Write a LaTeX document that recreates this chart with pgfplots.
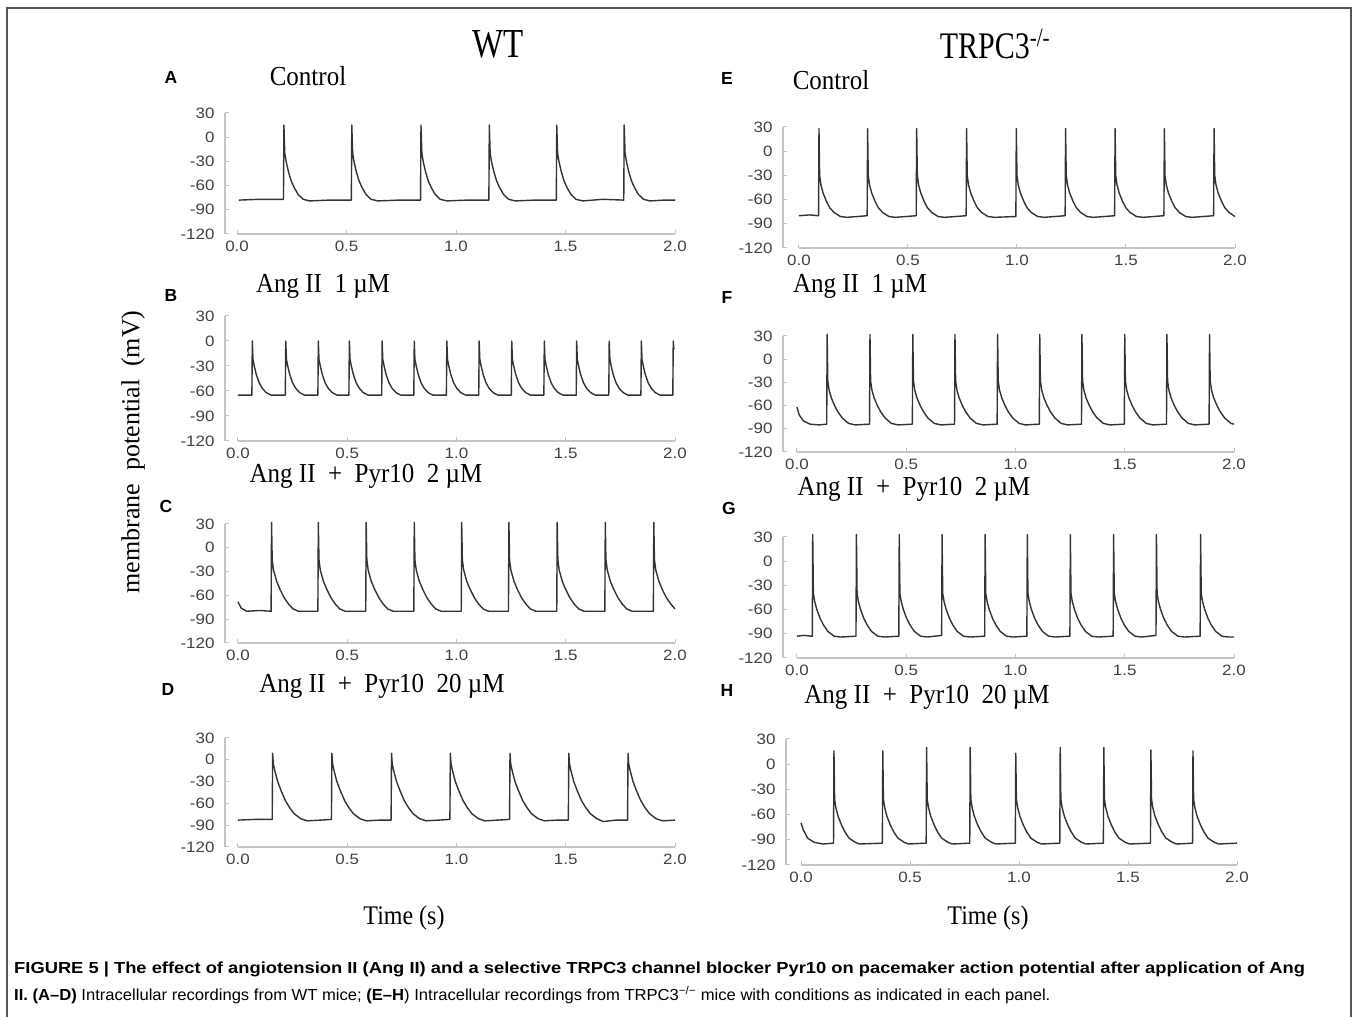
\documentclass[border=0pt]{standalone}
\usepackage{fontspec}
\setmainfont{Liberation Serif}
\newfontfamily\sansf{Liberation Sans}
\usepackage{graphicx}
\usepackage{pgfplots}
\pgfplotsset{compat=1.18}

\definecolor{axgray}{HTML}{C4C4C4}
\definecolor{tickgray}{HTML}{404040}
\definecolor{trace}{HTML}{333333}
\definecolor{framegray}{HTML}{555555}
\newcommand\tickfont{\sansf\fontsize{15}{15}\selectfont}
\newcommand\tl[1]{\scalebox{1.13}[1]{#1}}
\newcommand\ttl[1]{\scalebox{1}[1.1]{\fontsize{25}{25}\selectfont #1}}
\newcommand\lett[1]{\sansf\bfseries\fontsize{17.5}{17.5}\selectfont #1}

\tikzset{aptrace/.style={color=trace, line width=1.4pt, line join=round}}
\pgfplotsset{ap/.style={scale only axis, anchor=south west,
  ymin=-120, ymax=30, xmax=2, axis lines*=left,
  x axis line style={draw=none}, y axis line style={draw=axgray, line width=1.1pt},
  ytick={-120,-90,-60,-30,0,30},
  yticklabels={\tl{-120},\tl{-90},\tl{-60},\tl{-30},\tl{0},\tl{30}},
  xtick={0,0.5,1,1.5,2},
  xticklabels={\tl{0.0},\tl{0.5},\tl{1.0},\tl{1.5},\tl{2.0}},
  tick label style={font=\tickfont, text=tickgray},
  tick style={draw=axgray, line width=1pt}, tick align=inside, major tick length=4pt,
  yticklabel style={xshift=-7pt},
  xticklabel style={yshift=-3pt, text height=11pt, text depth=2pt, anchor=north},
  clip=false}}
\newcommand\xline{\draw[axgray, line width=1.1pt] (axis cs:0,-120) -- (axis cs:2,-120);}

\begin{document}
\begin{tikzpicture}
\path[use as bounding box] (0pt,0pt) rectangle (1358pt,1017pt);
\draw[framegray, line width=1.5pt] (7pt,0pt) -- (7pt,1009pt) -- (1351pt,1009pt) -- (1351pt,0pt);

% ---------------- WT column ----------------
% A: control
\begin{axis}[ap, at={(225pt,783pt)}, width=450pt, height=121pt, xmin=-0.055]
\xline
\addplot[aptrace] coordinates {
(0.008,-78) (0.1,-77) (0.212,-77)
(0.214,15) (0.218,-20) (0.224,-30) (0.234,-42) (0.247,-54) (0.262,-63) (0.279,-71) (0.302,-77) (0.332,-79) (0.42,-78) (0.522,-78)
(0.524,15) (0.528,-20) (0.534,-30) (0.544,-42) (0.557,-54) (0.572,-63) (0.589,-71) (0.612,-77) (0.642,-79) (0.74,-78) (0.838,-78)
(0.840,15) (0.844,-20) (0.850,-30) (0.860,-42) (0.873,-54) (0.888,-63) (0.905,-71) (0.928,-77) (0.958,-79) (1.05,-78) (1.150,-78)
(1.152,15) (1.156,-20) (1.162,-30) (1.172,-42) (1.185,-54) (1.200,-63) (1.217,-71) (1.240,-77) (1.270,-79) (1.36,-78) (1.458,-78)
(1.460,15) (1.464,-20) (1.470,-30) (1.480,-42) (1.493,-54) (1.508,-63) (1.525,-71) (1.548,-77) (1.578,-79) (1.67,-77) (1.766,-78)
(1.768,15) (1.772,-20) (1.778,-30) (1.788,-42) (1.801,-54) (1.816,-63) (1.833,-71) (1.856,-77) (1.886,-79) (1.95,-78) (2.0,-78)
};
\end{axis}

% B: Ang II 1 uM
\begin{axis}[ap, at={(225pt,576pt)}, width=450pt, height=125pt, xmin=-0.059]
\xline
\addplot[aptrace] coordinates {
(0,-65) (0.064,-65)
(0.066,0) (0.069,-22) (0.075,-30) (0.084,-40) (0.097,-50) (0.112,-57) (0.130,-62) (0.152,-65) (0.217,-65)
(0.219,0) (0.222,-22) (0.228,-30) (0.237,-40) (0.250,-50) (0.265,-57) (0.283,-62) (0.305,-65) (0.366,-65)
(0.368,0) (0.371,-22) (0.377,-30) (0.386,-40) (0.399,-50) (0.414,-57) (0.432,-62) (0.454,-65) (0.508,-65)
(0.510,0) (0.513,-22) (0.519,-30) (0.528,-40) (0.541,-50) (0.556,-57) (0.574,-62) (0.596,-65) (0.658,-65)
(0.660,0) (0.663,-22) (0.669,-30) (0.678,-40) (0.691,-50) (0.706,-57) (0.724,-62) (0.746,-65) (0.805,-65)
(0.807,0) (0.810,-22) (0.816,-30) (0.825,-40) (0.838,-50) (0.853,-57) (0.871,-62) (0.893,-65) (0.954,-65)
(0.956,0) (0.959,-22) (0.965,-30) (0.974,-40) (0.987,-50) (1.002,-57) (1.020,-62) (1.042,-65) (1.102,-65)
(1.104,0) (1.107,-22) (1.113,-30) (1.122,-40) (1.135,-50) (1.150,-57) (1.168,-62) (1.190,-65) (1.251,-65)
(1.253,0) (1.256,-22) (1.262,-30) (1.271,-40) (1.284,-50) (1.299,-57) (1.317,-62) (1.339,-65) (1.400,-65)
(1.402,0) (1.405,-22) (1.411,-30) (1.420,-40) (1.433,-50) (1.448,-57) (1.466,-62) (1.488,-65) (1.548,-65)
(1.550,0) (1.553,-22) (1.559,-30) (1.568,-40) (1.581,-50) (1.596,-57) (1.614,-62) (1.636,-65) (1.697,-65)
(1.699,0) (1.702,-22) (1.708,-30) (1.717,-40) (1.730,-50) (1.745,-57) (1.763,-62) (1.785,-65) (1.844,-65)
(1.846,0) (1.849,-22) (1.855,-30) (1.864,-40) (1.877,-50) (1.892,-57) (1.910,-62) (1.932,-65) (1.990,-65)
(1.992,0) (1.995,-10)
};
\end{axis}

% C: Ang II + Pyr10 2 uM
\begin{axis}[ap, at={(225pt,374pt)}, width=450pt, height=119pt, xmin=-0.059]
\xline
\addplot[aptrace] coordinates {
(0,-68) (0.015,-76) (0.04,-80) (0.1,-79) (0.152,-80)
(0.154,32) (0.157,-15) (0.163,-28) (0.177,-42) (0.192,-52) (0.212,-63) (0.232,-71) (0.252,-77) (0.277,-80) (0.366,-80)
(0.368,32) (0.371,-15) (0.377,-28) (0.391,-42) (0.406,-52) (0.426,-63) (0.446,-71) (0.466,-77) (0.491,-80) (0.585,-80)
(0.587,32) (0.590,-15) (0.596,-28) (0.610,-42) (0.625,-52) (0.645,-63) (0.665,-71) (0.685,-77) (0.710,-80) (0.805,-80)
(0.807,32) (0.810,-15) (0.816,-28) (0.830,-42) (0.845,-52) (0.865,-63) (0.885,-71) (0.905,-77) (0.930,-80) (1.022,-80)
(1.024,32) (1.027,-15) (1.033,-28) (1.047,-42) (1.062,-52) (1.082,-63) (1.102,-71) (1.122,-77) (1.147,-80) (1.238,-80)
(1.240,32) (1.243,-15) (1.249,-28) (1.263,-42) (1.278,-52) (1.298,-63) (1.318,-71) (1.338,-77) (1.363,-80) (1.459,-80)
(1.461,32) (1.464,-15) (1.470,-28) (1.484,-42) (1.499,-52) (1.519,-63) (1.539,-71) (1.559,-77) (1.584,-80) (1.679,-80)
(1.681,32) (1.684,-15) (1.690,-28) (1.704,-42) (1.719,-52) (1.739,-63) (1.759,-71) (1.779,-77) (1.804,-80) (1.901,-80)
(1.903,32) (1.906,-15) (1.912,-28) (1.926,-42) (1.941,-52) (1.961,-63) (1.981,-71) (2.0,-77)
};
\end{axis}

% D: Ang II + Pyr10 20 uM
\begin{axis}[ap, at={(225pt,170pt)}, width=450pt, height=109pt, xmin=-0.059]
\xline
\addplot[aptrace] coordinates {
(0,-83) (0.08,-82) (0.157,-82)
(0.159,9) (0.162,-5) (0.168,-14) (0.182,-30) (0.197,-42) (0.217,-56) (0.237,-66) (0.257,-74) (0.287,-81) (0.317,-84) (0.38,-83) (0.428,-82)
(0.430,9) (0.433,-5) (0.439,-14) (0.453,-30) (0.468,-42) (0.488,-56) (0.508,-66) (0.528,-74) (0.558,-81) (0.588,-84) (0.65,-83) (0.701,-83)
(0.703,9) (0.706,-5) (0.712,-14) (0.726,-30) (0.741,-42) (0.761,-56) (0.781,-66) (0.801,-74) (0.831,-81) (0.861,-84) (0.92,-83) (0.970,-82)
(0.972,9) (0.975,-5) (0.981,-14) (0.995,-30) (1.010,-42) (1.030,-56) (1.050,-66) (1.070,-74) (1.100,-81) (1.130,-84) (1.19,-83) (1.243,-82)
(1.245,9) (1.248,-5) (1.254,-14) (1.268,-30) (1.283,-42) (1.303,-56) (1.323,-66) (1.343,-74) (1.373,-81) (1.403,-84) (1.46,-83) (1.512,-83)
(1.514,9) (1.517,-5) (1.523,-14) (1.537,-30) (1.552,-42) (1.572,-56) (1.592,-66) (1.612,-74) (1.642,-81) (1.672,-85) (1.73,-83) (1.783,-83)
(1.785,9) (1.788,-5) (1.794,-14) (1.808,-30) (1.823,-42) (1.843,-56) (1.863,-66) (1.883,-74) (1.913,-81) (1.943,-84) (2.0,-83)
};
\end{axis}

% ---------------- TRPC3-/- column ----------------
% E: control
\begin{axis}[ap, at={(783pt,769pt)}, width=452pt, height=121pt, xmin=-0.073]
\xline
\addplot[aptrace] coordinates {
(0,-80) (0.05,-79) (0.090,-80)
(0.092,28) (0.095,-30) (0.101,-42) (0.111,-52) (0.126,-62) (0.141,-70) (0.161,-76) (0.190,-81) (0.220,-82) (0.313,-80)
(0.315,28) (0.318,-30) (0.324,-42) (0.334,-52) (0.349,-62) (0.364,-70) (0.384,-76) (0.413,-81) (0.443,-82) (0.538,-80)
(0.540,28) (0.543,-30) (0.549,-42) (0.559,-52) (0.574,-62) (0.589,-70) (0.609,-76) (0.638,-81) (0.668,-82) (0.767,-80)
(0.769,28) (0.772,-30) (0.778,-42) (0.788,-52) (0.803,-62) (0.818,-70) (0.838,-76) (0.867,-81) (0.897,-82) (0.995,-81)
(0.997,28) (1.000,-30) (1.006,-42) (1.016,-52) (1.031,-62) (1.046,-70) (1.066,-76) (1.095,-81) (1.125,-82) (1.221,-80)
(1.223,28) (1.226,-30) (1.232,-42) (1.242,-52) (1.257,-62) (1.272,-70) (1.292,-76) (1.321,-81) (1.351,-82) (1.448,-80)
(1.450,28) (1.453,-30) (1.459,-42) (1.469,-52) (1.484,-62) (1.499,-70) (1.519,-76) (1.548,-81) (1.578,-82) (1.674,-80)
(1.676,28) (1.679,-30) (1.685,-42) (1.695,-52) (1.710,-62) (1.725,-70) (1.745,-76) (1.774,-81) (1.804,-82) (1.902,-80)
(1.904,28) (1.907,-30) (1.913,-42) (1.923,-52) (1.938,-62) (1.953,-70) (1.973,-76) (2.0,-81)
};
\end{axis}

% F: Ang II 1 uM
\begin{axis}[ap, at={(783pt,565pt)}, width=451pt, height=116pt, xmin=-0.064]
\xline
\addplot[aptrace] coordinates {
(0,-62) (0.01,-72) (0.03,-80) (0.06,-84) (0.1,-85) (0.136,-84)
(0.138,32) (0.141,-28) (0.147,-40) (0.157,-50) (0.172,-60) (0.187,-68) (0.207,-76) (0.236,-83) (0.266,-85) (0.332,-84)
(0.334,32) (0.337,-28) (0.343,-40) (0.353,-50) (0.368,-60) (0.383,-68) (0.403,-76) (0.432,-83) (0.462,-85) (0.528,-84)
(0.530,32) (0.533,-28) (0.539,-40) (0.549,-50) (0.564,-60) (0.579,-68) (0.599,-76) (0.628,-83) (0.658,-85) (0.721,-84)
(0.723,32) (0.726,-28) (0.732,-40) (0.742,-50) (0.757,-60) (0.772,-68) (0.792,-76) (0.821,-83) (0.851,-85) (0.916,-84)
(0.918,32) (0.921,-28) (0.927,-40) (0.937,-50) (0.952,-60) (0.967,-68) (0.987,-76) (1.016,-83) (1.046,-85) (1.109,-84)
(1.111,32) (1.114,-28) (1.120,-40) (1.130,-50) (1.145,-60) (1.160,-68) (1.180,-76) (1.209,-83) (1.239,-85) (1.302,-84)
(1.304,32) (1.307,-28) (1.313,-40) (1.323,-50) (1.338,-60) (1.353,-68) (1.373,-76) (1.402,-83) (1.432,-85) (1.498,-84)
(1.500,32) (1.503,-28) (1.509,-40) (1.519,-50) (1.534,-60) (1.549,-68) (1.569,-76) (1.598,-83) (1.628,-85) (1.691,-84)
(1.693,32) (1.696,-28) (1.702,-40) (1.712,-50) (1.727,-60) (1.742,-68) (1.762,-76) (1.791,-83) (1.821,-85) (1.886,-84)
(1.888,32) (1.891,-28) (1.897,-40) (1.907,-50) (1.922,-60) (1.937,-68) (1.957,-76) (1.986,-83) (2.0,-84)
};
\end{axis}

% G: Ang II + Pyr10 2 uM
\begin{axis}[ap, at={(783pt,359pt)}, width=451pt, height=121pt, xmin=-0.064]
\xline
\addplot[aptrace] coordinates {
(0,-93) (0.03,-92) (0.070,-93)
(0.072,33) (0.075,-40) (0.081,-50) (0.091,-60) (0.106,-71) (0.121,-79) (0.141,-87) (0.170,-93) (0.200,-94) (0.270,-93)
(0.272,33) (0.275,-40) (0.281,-50) (0.291,-60) (0.306,-71) (0.321,-79) (0.341,-87) (0.370,-93) (0.400,-94) (0.466,-93)
(0.468,33) (0.471,-40) (0.477,-50) (0.487,-60) (0.502,-71) (0.517,-79) (0.537,-87) (0.566,-93) (0.596,-94) (0.662,-92)
(0.664,33) (0.667,-40) (0.673,-50) (0.683,-60) (0.698,-71) (0.713,-79) (0.733,-87) (0.762,-93) (0.792,-94) (0.859,-93)
(0.861,33) (0.864,-40) (0.870,-50) (0.880,-60) (0.895,-71) (0.910,-79) (0.930,-87) (0.959,-93) (0.989,-94) (1.052,-93)
(1.054,33) (1.057,-40) (1.063,-50) (1.073,-60) (1.088,-71) (1.103,-79) (1.123,-87) (1.152,-93) (1.182,-94) (1.249,-93)
(1.251,33) (1.254,-40) (1.260,-50) (1.270,-60) (1.285,-71) (1.300,-79) (1.320,-87) (1.349,-93) (1.379,-94) (1.447,-93)
(1.449,33) (1.452,-40) (1.458,-50) (1.468,-60) (1.483,-71) (1.498,-79) (1.518,-87) (1.547,-93) (1.577,-94) (1.643,-92)
(1.645,33) (1.648,-40) (1.654,-50) (1.664,-60) (1.679,-71) (1.694,-79) (1.714,-87) (1.743,-93) (1.773,-94) (1.845,-93)
(1.847,33) (1.850,-40) (1.856,-50) (1.866,-60) (1.881,-71) (1.896,-79) (1.916,-87) (1.945,-93) (1.975,-94) (2.0,-94)
};
\end{axis}

% H: Ang II + Pyr10 20 uM
\begin{axis}[ap, at={(786pt,152pt)}, width=451pt, height=126pt, xmin=-0.069]
\xline
\addplot[aptrace] coordinates {
(0,-70) (0.01,-78) (0.03,-88) (0.06,-93) (0.1,-95) (0.149,-94)
(0.151,16) (0.154,-42) (0.160,-52) (0.170,-62) (0.185,-72) (0.200,-80) (0.220,-88) (0.249,-93) (0.269,-95) (0.373,-94)
(0.375,16) (0.378,-42) (0.384,-52) (0.394,-62) (0.409,-72) (0.424,-80) (0.444,-88) (0.473,-93) (0.493,-95) (0.574,-94)
(0.576,20) (0.579,-42) (0.585,-52) (0.595,-62) (0.610,-72) (0.625,-80) (0.645,-88) (0.674,-93) (0.694,-95) (0.774,-94)
(0.776,20) (0.779,-42) (0.785,-52) (0.795,-62) (0.810,-72) (0.825,-80) (0.845,-88) (0.874,-93) (0.894,-95) (0.983,-94)
(0.985,13) (0.988,-42) (0.994,-52) (1.004,-62) (1.019,-72) (1.034,-80) (1.054,-88) (1.083,-93) (1.103,-95) (1.187,-94)
(1.189,20) (1.192,-42) (1.198,-52) (1.208,-62) (1.223,-72) (1.238,-80) (1.258,-88) (1.287,-93) (1.307,-95) (1.387,-94)
(1.389,20) (1.392,-42) (1.398,-52) (1.408,-62) (1.423,-72) (1.438,-80) (1.458,-88) (1.487,-93) (1.507,-95) (1.603,-94)
(1.605,17) (1.608,-42) (1.614,-52) (1.624,-62) (1.639,-72) (1.654,-80) (1.674,-88) (1.703,-93) (1.723,-95) (1.796,-94)
(1.798,16) (1.801,-42) (1.807,-52) (1.817,-62) (1.832,-72) (1.847,-80) (1.867,-88) (1.896,-93) (1.916,-95) (2.0,-94)
};
\end{axis}

% ---------------- labels ----------------
\node at (498pt,973pt) {\scalebox{1}[1.25]{\fontsize{33}{33}\selectfont WT}};
\node at (995pt,973pt) {\scalebox{1}[1.25]{\fontsize{30}{30}\selectfont TRPC3\textsuperscript{-/-}}};

\node at (171pt,940pt) {\lett{A}};
\node at (171pt,722pt) {\lett{B}};
\node at (166pt,511pt) {\lett{C}};
\node at (168pt,328pt) {\lett{D}};
\node at (727pt,939pt) {\lett{E}};
\node at (727pt,720pt) {\lett{F}};
\node at (729pt,509pt) {\lett{G}};
\node at (727pt,327pt) {\lett{H}};

\node at (308pt,941pt) {\ttl{Control}};
\node at (323pt,731pt) {\ttl{Ang II\enspace 1 µM}};
\node at (366pt,541pt) {\ttl{Ang II\enspace+\enspace Pyr10\enspace 2 µM}};
\node at (382pt,331pt) {\ttl{Ang II\enspace+\enspace Pyr10\enspace 20 µM}};
\node at (831pt,937pt) {\ttl{Control}};
\node at (860pt,731pt) {\ttl{Ang II\enspace 1 µM}};
\node at (914pt,528pt) {\ttl{Ang II\enspace+\enspace Pyr10\enspace 2 µM}};
\node at (927pt,320pt) {\ttl{Ang II\enspace+\enspace Pyr10\enspace 20 µM}};

\node[rotate=90] at (133pt,565pt) {\fontsize{26}{26}\selectfont membrane\enspace potential\enspace (mV)};
\node at (404pt,99pt) {\scalebox{1}[1.12]{\fontsize{24}{24}\selectfont Time (s)}};
\node at (988pt,99pt) {\scalebox{1}[1.12]{\fontsize{24}{24}\selectfont Time (s)}};

\node[anchor=base west, inner sep=0pt] at (14pt,43.5pt) {\scalebox{1.146}[1]{\sansf\fontsize{16}{16}\selectfont\bfseries FIGURE 5 | The effect of angiotension II (Ang II) and a selective TRPC3 channel blocker Pyr10 on pacemaker action potential after application of Ang}};
\node[anchor=base west, inner sep=0pt] at (14pt,16.5pt) {\scalebox{1.037}[1]{\sansf\fontsize{16}{16}\selectfont\textbf{II. (A–D)} Intracellular recordings from WT mice; \textbf{(E–H}) Intracellular recordings from TRPC3\textsuperscript{−/−} mice with conditions as indicated in each panel.}};
\end{tikzpicture}
\end{document}
